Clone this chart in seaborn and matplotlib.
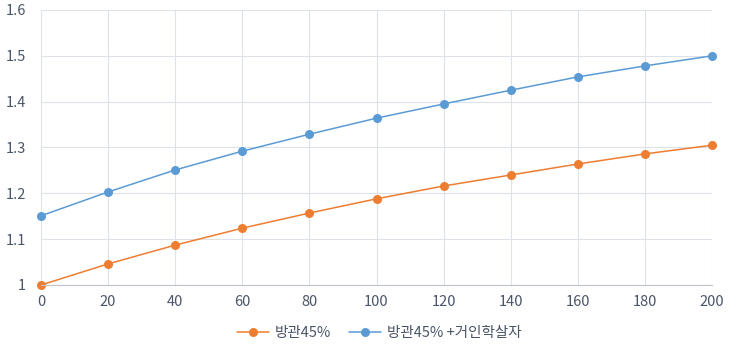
import matplotlib
matplotlib.use("Agg")
import matplotlib.pyplot as plt
import seaborn as sns
import pandas as pd

x_vals = [0, 20, 40, 60, 80, 100, 120, 140, 160, 180, 200]
series_a = [1.0, 1.046, 1.087, 1.124, 1.157, 1.188, 1.216, 1.240, 1.264, 1.286, 1.305]
series_b = [1.151, 1.203, 1.251, 1.292, 1.329, 1.364, 1.395, 1.425, 1.454, 1.478, 1.500]
names = ["방관45%", "방관45% +거인학살자"]
colors = ["#ED7D31", "#5B9BD5"]

df = pd.DataFrame({
    "x": x_vals * 2,
    "y": series_a + series_b,
    "s": [names[0]] * len(x_vals) + [names[1]] * len(x_vals),
})

sns.set_style("white")
plt.rcParams['font.family'] = ['Noto Sans CJK KR', 'DejaVu Sans']

text_color = "#4a5568"

fig = plt.figure(figsize=(7.43, 3.64), dpi=100)
ax = fig.add_axes([41 / 743, 1 - 285 / 364, (712 - 41) / 743, (285 - 10) / 364])

sns.lineplot(data=df, x="x", y="y", hue="s", palette=colors, marker="o",
             markersize=6.5, markeredgewidth=0, linewidth=1.1, ax=ax, legend=True)

ax.set_xlim(0, 200)
ax.set_ylim(1, 1.6)
ax.set_xticks(x_vals)
ax.set_yticks([1, 1.1, 1.2, 1.3, 1.4, 1.5, 1.6])
ax.set_yticklabels(["1", "1.1", "1.2", "1.3", "1.4", "1.5", "1.6"])
ax.grid(True, color="#dde1e8", linewidth=0.8)
ax.set_axisbelow(True)
for sp in ["top", "right", "left"]:
    ax.spines[sp].set_visible(False)
ax.spines["bottom"].set_color("#bfc4cc")
ax.tick_params(axis="both", length=0, colors=text_color, labelsize=10.5, pad=7)
ax.tick_params(axis="y", pad=11)
ax.set_xlabel("")
ax.set_ylabel("")
for l in ax.lines:
    l.set_clip_on(False)

handles, labels = ax.get_legend_handles_labels()
ax.legend(handles, labels, loc="center", bbox_to_anchor=(379 / 743, 1 - 333 / 364),
          bbox_transform=fig.transFigure, ncol=2, frameon=False, fontsize=10.5,
          labelcolor=text_color, handlelength=2.2, handletextpad=0.4, columnspacing=1.2)

fig.savefig("out.png", dpi=100)
